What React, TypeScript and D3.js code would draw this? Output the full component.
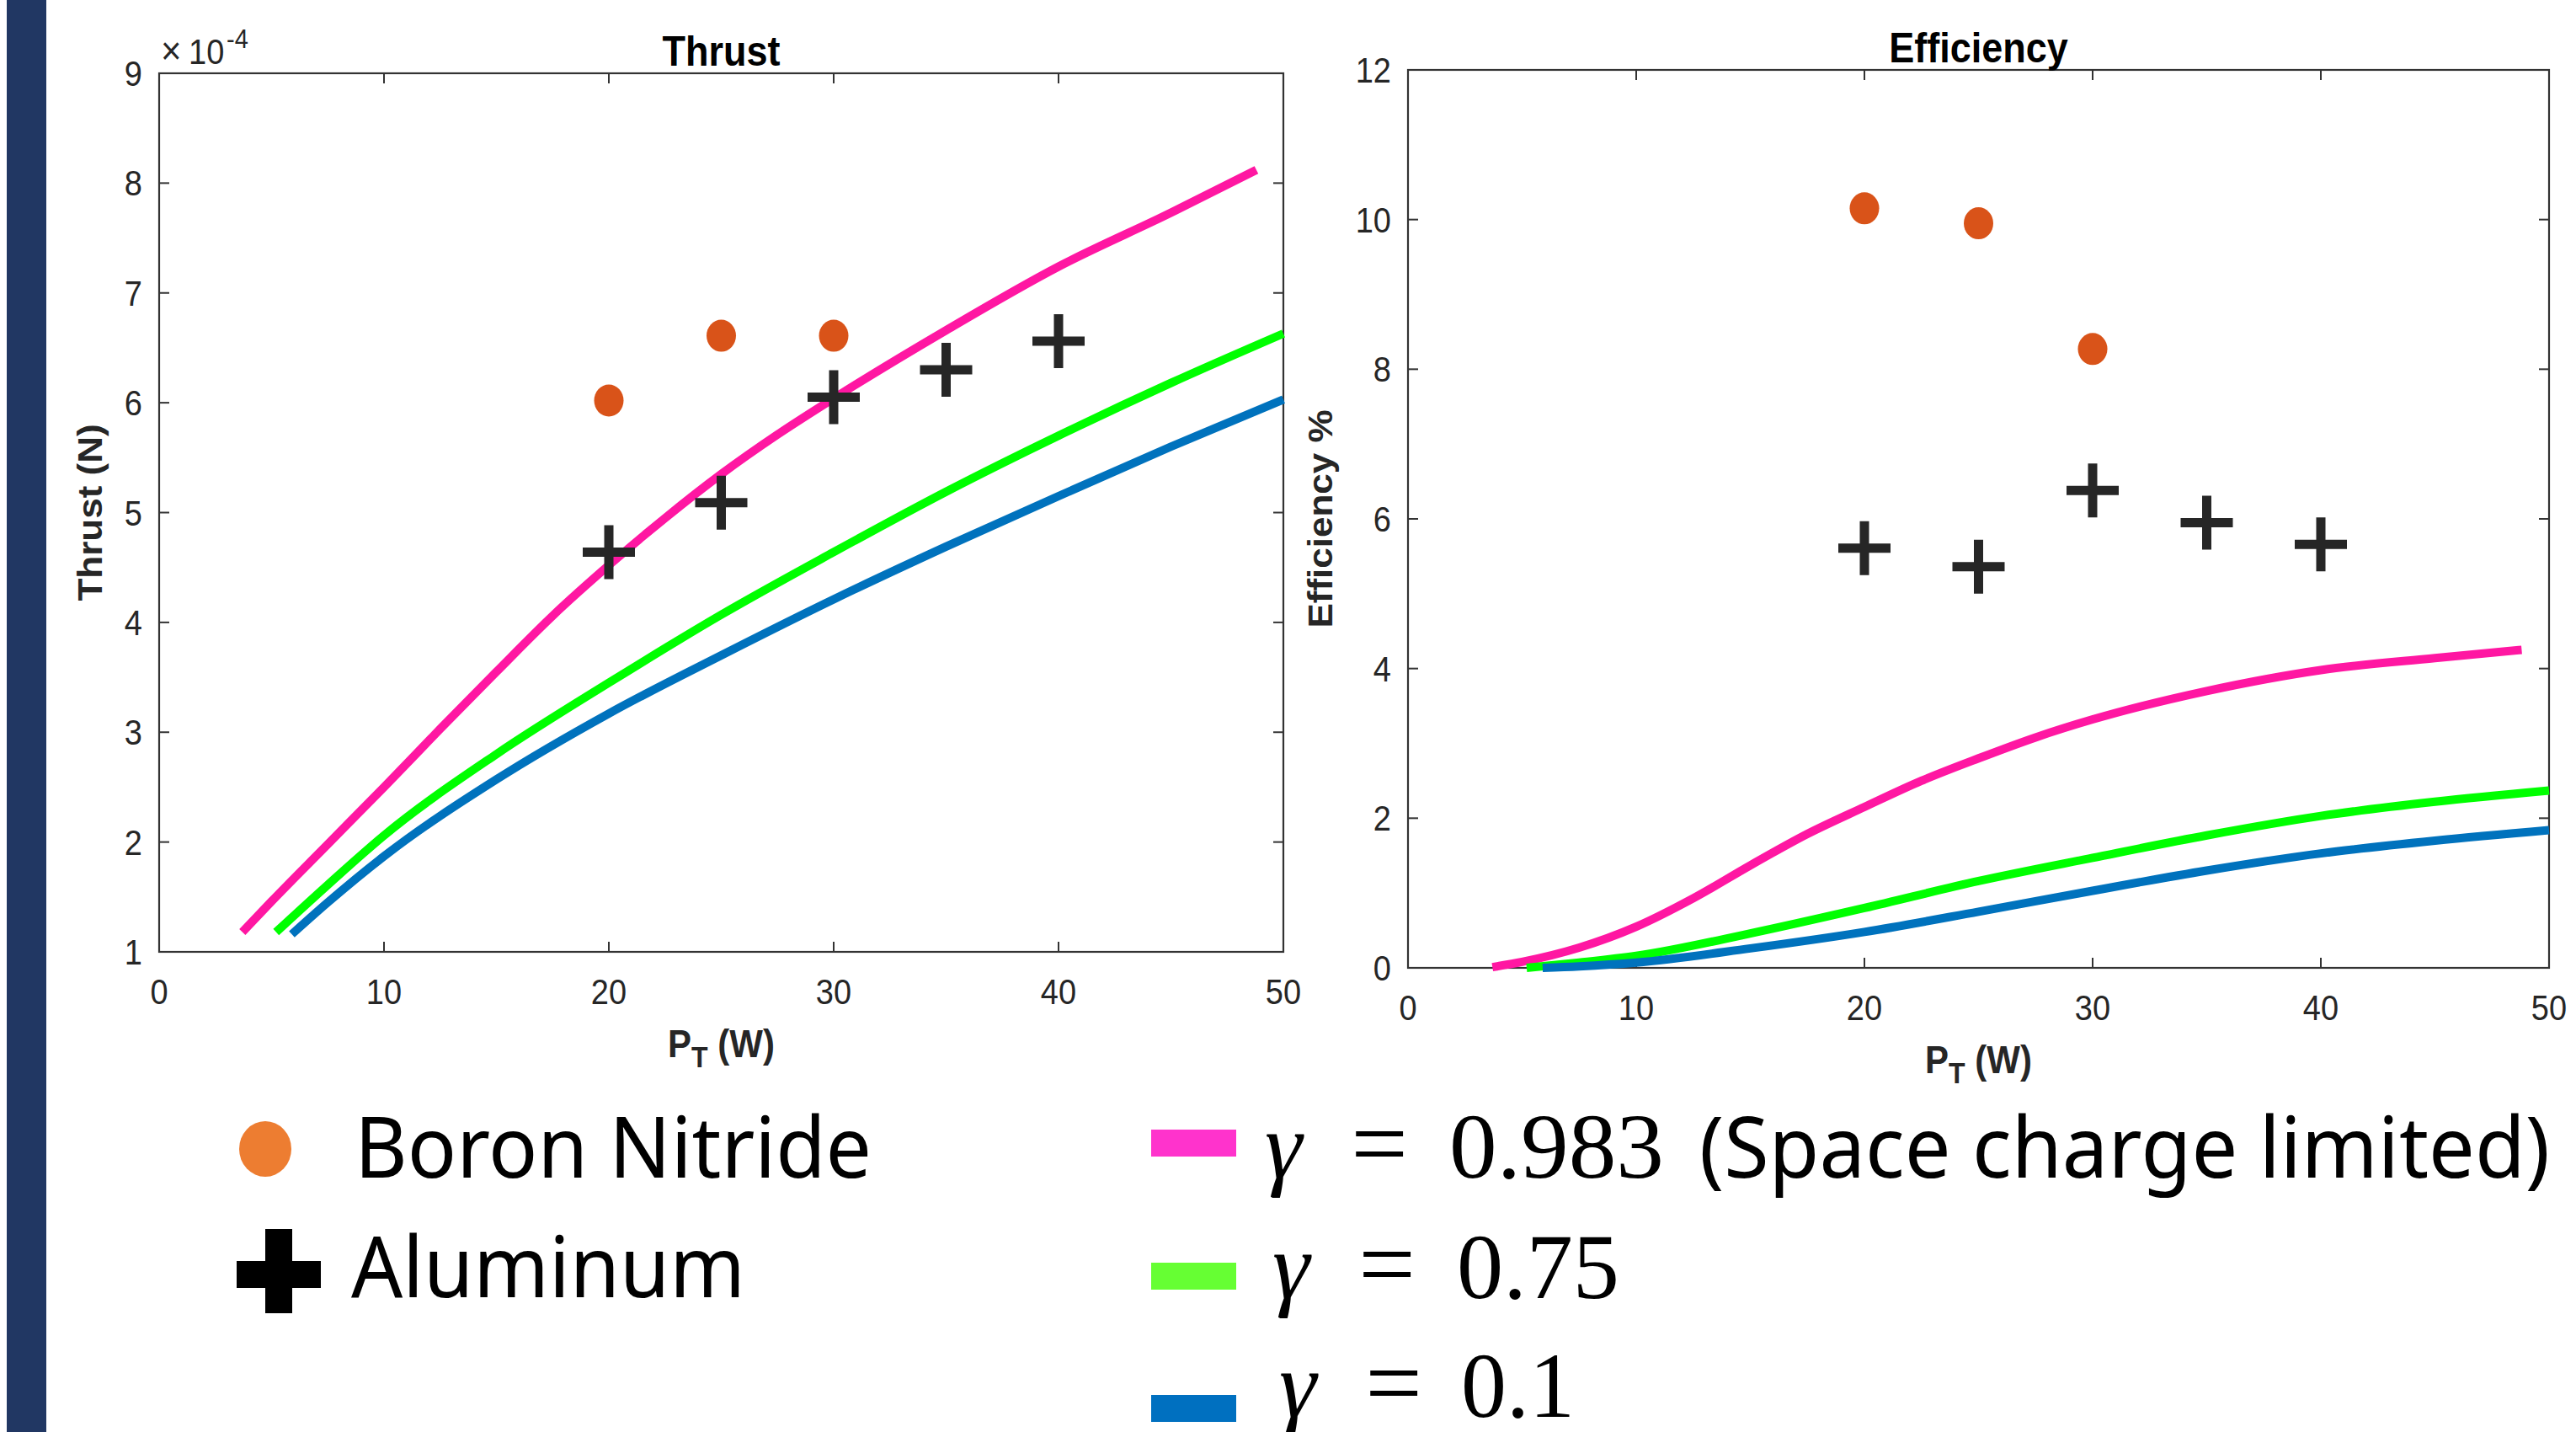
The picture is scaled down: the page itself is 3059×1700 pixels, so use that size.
import React from "react";
import * as d3 from "d3";

const W = 3059;
const H = 1700;

// axis ticks
const pTicks = [0, 10, 20, 30, 40, 50];
const thrustTicks = [1, 2, 3, 4, 5, 6, 7, 8, 9];
const effTicks = [0, 2, 4, 6, 8, 10, 12];

// measured points
const nitrideP = [20, 25, 30];
const nitrideThrust = [6.02, 6.61, 6.61];
const nitrideEff = [10.15, 9.95, 8.27];

const aluminumP = [20, 25, 30, 35, 40];
const aluminumThrust = [4.64, 5.09, 6.05, 6.3, 6.56];
const aluminumEff = [5.61, 5.36, 6.38, 5.95, 5.66];

// model curves (thrust in 1e-4 N, efficiency in %)
const g983P = [3.7, 5, 7.5, 10, 12.5, 15, 17.5, 20, 22.5, 25, 27.5, 30, 35, 40, 45, 48.8];
const g983Thrust = [1.18, 1.46, 1.98, 2.5, 3.03, 3.55, 4.06, 4.52, 4.95, 5.35, 5.71, 6.04, 6.66, 7.24, 7.73, 8.12];
const g983Eff = [0.01, 0.08, 0.27, 0.55, 0.93, 1.37, 1.79, 2.15, 2.5, 2.8, 3.08, 3.32, 3.7, 3.98, 4.14, 4.25];

const g075P = [5.2, 7.5, 10, 15, 20, 25, 30, 35, 40, 45, 50];
const g075Thrust = [1.18, 1.61, 2.06, 2.8, 3.45, 4.07, 4.64, 5.19, 5.7, 6.18, 6.63];
const g075Eff = [0.0, 0.07, 0.16, 0.46, 0.8, 1.16, 1.47, 1.77, 2.03, 2.22, 2.37];

const g01P = [5.9, 7.5, 10, 15, 20, 25, 30, 35, 40, 45, 50];
const g01Thrust = [1.16, 1.45, 1.87, 2.57, 3.17, 3.7, 4.21, 4.69, 5.15, 5.6, 6.03];
const g01Eff = [0.0, 0.02, 0.07, 0.26, 0.48, 0.75, 1.03, 1.3, 1.53, 1.7, 1.84];

const series = [
  { p: g983P, thrust: g983Thrust, eff: g983Eff, color: "#ff17a2" },
  { p: g075P, thrust: g075Thrust, eff: g075Eff, color: "#00ff00" },
  { p: g01P, thrust: g01Thrust, eff: g01Eff, color: "#0072bd" },
];

const legendGamma = ["0.983", "0.75", "0.1"];
const legendColors = ["#ff33cc", "#66ff33", "#0070c0"];

const mFont = "'Liberation Sans', Arial, Helvetica, sans-serif";
const axisColor = "#333333";
const labelColor = "#262626";

function SText(props: any) {
  const { x, y, sy = 1.1, children, ...rest } = props;
  return (
    <text transform={`translate(${x},${y}) scale(1,${sy})`} fontFamily={mFont} fill={labelColor} {...rest}>
      {children}
    </text>
  );
}

function Panel(props: any) {
  const { x0, x1, y0, y1, yDomain, yTicks, title, yLabel, yLabelX, kind, nitride, aluminum, exponent } = props;
  const x = d3.scaleLinear().domain([0, 50]).range([x0, x1]);
  const y = d3.scaleLinear().domain(yDomain).range([y1, y0]);
  const tl = 12;
  const cx = (x0 + x1) / 2;
  const cy = (y0 + y1) / 2;

  return (
    <g>
      {/* box */}
      <rect x={x0} y={y0} width={x1 - x0} height={y1 - y0} fill="none" stroke={axisColor} strokeWidth={2.2} />
      {pTicks.map((t) => (
        <g key={"xt" + t}>
          <line x1={x(t)} x2={x(t)} y1={y1} y2={y1 - tl} stroke={axisColor} strokeWidth={2} />
          <line x1={x(t)} x2={x(t)} y1={y0} y2={y0 + tl} stroke={axisColor} strokeWidth={2} />
          <SText x={x(t)} y={y1 + 62} fontSize={38} textAnchor="middle">
            {t}
          </SText>
        </g>
      ))}
      {yTicks.map((t: number) => (
        <g key={"yt" + t}>
          <line x1={x0} x2={x0 + tl} y1={y(t)} y2={y(t)} stroke={axisColor} strokeWidth={2} />
          <line x1={x1} x2={x1 - tl} y1={y(t)} y2={y(t)} stroke={axisColor} strokeWidth={2} />
          <SText x={x0 - 20} y={y(t) + 15} fontSize={38} textAnchor="end">
            {t}
          </SText>
        </g>
      ))}

      {/* curves */}
      {series.map((s, i) => {
        const vals: number[] = s[kind as "thrust" | "eff"];
        const line = d3
          .line<number>()
          .x((d, j) => x(s.p[j]))
          .y((d) => y(d))
          .curve(d3.curveMonotoneX);
        return <path key={i} d={line(vals) || ""} fill="none" stroke={s.color} strokeWidth={10} />;
      })}

      {/* measured */}
      {nitrideP.map((p, i) => (
        <ellipse key={"n" + i} cx={x(p)} cy={y(nitride[i])} rx={17.5} ry={19} fill="#d95319" />
      ))}
      {aluminumP.map((p, i) => {
        const px = x(p);
        const py = y(aluminum[i]);
        return (
          <path
            key={"a" + i}
            d={`M${px - 31},${py}H${px + 31}M${px},${py - 32}V${py + 32}`}
            stroke="#262626"
            strokeWidth={11}
            fill="none"
          />
        );
      })}

      {/* titles */}
      <SText x={cx} y={y0 - 9} sy={1.13} fontSize={45} fontWeight="bold" textAnchor="middle" fill="#000">
        {title}
      </SText>
      <SText x={cx} y={y1 + 125} fontSize={42} fontWeight="bold" textAnchor="middle">
        <tspan>P</tspan>
        <tspan fontSize={32} dy={11}>
          T
        </tspan>
        <tspan dy={-11}> (W)</tspan>
      </SText>
      <text
        transform={`translate(${yLabelX},${cy}) rotate(-90) scale(1.1,1)`}
        fontFamily={mFont}
        fontSize={40}
        fontWeight="bold"
        textAnchor="middle"
        fill={labelColor}
      >
        {yLabel}
      </text>

      {exponent && (
        <g>
          <SText x={191} y={76} fontSize={42}>
            ×
          </SText>
          <SText x={224} y={76} fontSize={38}>
            10
          </SText>
          <SText x={269} y={57} fontSize={29}>
            -4
          </SText>
        </g>
      )}
    </g>
  );
}

function Legend() {
  const sans = "'Noto Sans', 'Open Sans', sans-serif";
  const serif = "'Liberation Serif', 'DejaVu Serif', serif";
  const rows = [
    { base: 1398, rectY: 1341, gx: 1502, eqx: 1638, nx: 1721, nw: 255 },
    { base: 1541, rectY: 1499, gx: 1511, eqx: 1647, nx: 1730, nw: 193 },
    { base: 1682, rectY: 1656, gx: 1519, eqx: 1655, nx: 1735, nw: 135 },
  ];
  return (
    <g>
      <ellipse cx={315} cy={1364} rx={31} ry={33} fill="#ed7d31" />
      <text x={421} y={1398} fontFamily={sans} fontSize={100} textLength={614} lengthAdjust="spacingAndGlyphs">
        Boron Nitride
      </text>
      <rect x={281} y={1497} width={100} height={32} fill="#000" />
      <rect x={315} y={1459} width={32} height={100} fill="#000" />
      <text x={417} y={1540} fontFamily={sans} fontSize={100} textLength={468} lengthAdjust="spacingAndGlyphs">
        Aluminum
      </text>

      {rows.map((r, i) => (
        <g key={i}>
          <rect x={1367} y={r.rectY} width={101} height={32} fill={legendColors[i]} />
          <text x={r.gx} y={r.base} fontFamily={serif} fontStyle="italic" fontSize={112}>
            γ
          </text>
          <text x={r.eqx} y={r.base} fontFamily={serif} fontSize={120} textAnchor="middle">
            =
          </text>
          <text x={r.nx} y={r.base} fontFamily={serif} fontSize={110} textLength={r.nw} lengthAdjust="spacingAndGlyphs">
            {legendGamma[i]}
          </text>
        </g>
      ))}
      <text x={2018} y={1398} fontFamily={sans} fontSize={100} textLength={1010} lengthAdjust="spacingAndGlyphs">
        (Space charge limited)
      </text>
    </g>
  );
}

export default function App() {
  return (
    <div style={{ position: "absolute", left: 0, top: 0, background: "#fff" }}>
      <svg width={W} height={H} viewBox={`0 0 ${W} ${H}`} style={{ display: "block" }}>
        <rect x={0} y={0} width={W} height={H} fill="#fff" />
        <rect x={8} y={0} width={47} height={H} fill="#213763" />
        <Panel
          x0={189}
          x1={1524}
          y0={87}
          y1={1130}
          yDomain={[1, 9]}
          yTicks={thrustTicks}
          title="Thrust"
          yLabel="Thrust (N)"
          yLabelX={121}
          kind="thrust"
          nitride={nitrideThrust}
          aluminum={aluminumThrust}
          exponent
        />
        <Panel
          x0={1672}
          x1={3027}
          y0={83}
          y1={1149}
          yDomain={[0, 12]}
          yTicks={effTicks}
          title="Efficiency"
          yLabel="Efficiency %"
          yLabelX={1582}
          kind="eff"
          nitride={nitrideEff}
          aluminum={aluminumEff}
        />
        <Legend />
      </svg>
    </div>
  );
}
